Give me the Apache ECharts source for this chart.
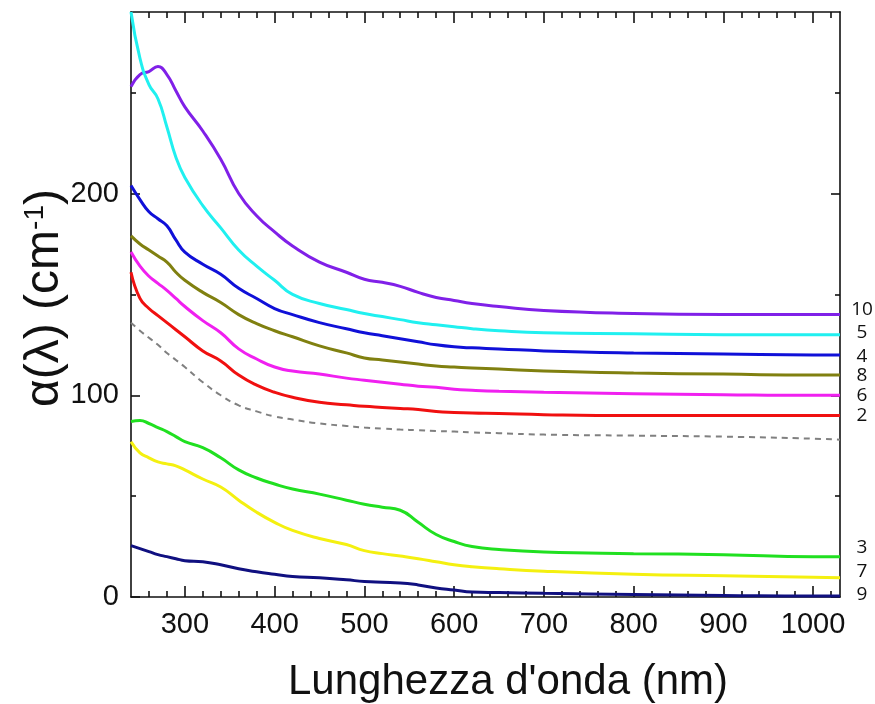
<!DOCTYPE html>
<html>
<head>
<meta charset="utf-8">
<script src="https://cdn.jsdelivr.net/npm/echarts@6/dist/echarts.min.js"></script>
<style>
  html, body { margin: 0; padding: 0; background: #fff; }
  #chart { width: 875px; height: 704px; }
</style>
</head>
<body>
<div id="chart"></div>
<script>
// lunghezza d'onda (nm)
var wl = [240, 250, 260, 270, 280, 290, 300, 320, 340, 360, 380, 400, 420, 450, 480, 500, 520, 540, 560, 580, 600, 620, 650, 700, 800, 900, 1000, 1030];

// alpha(lambda) cm^-1 per campione
var s10 = [253, 259, 260.5, 263, 259, 251, 243, 231, 217, 200, 189, 181, 174, 166, 161, 157.5, 156, 154, 151, 148.5, 147, 145.5, 144, 142, 140.5, 140, 140, 140];
var s5 = [290, 267, 254, 247, 233, 218, 208, 194, 183, 172, 164, 157, 150, 145.5, 142.5, 140.5, 139, 137.5, 136, 135, 134, 133, 132, 131, 130.5, 130, 130, 130];
var s4 = [204, 197, 191, 187.5, 184, 177, 171, 165, 160, 153, 148, 143, 140, 136, 133, 131, 129.5, 128, 126.5, 125, 124, 123.5, 123, 122, 121, 120.5, 120, 120];
var s8 = [179, 175, 172, 169, 166, 161, 157, 151, 146, 140, 135.5, 132, 129, 124.5, 121, 118.5, 117.5, 116.5, 115.5, 114.5, 114, 113.5, 113, 112, 111, 110.5, 110, 110];
var s6 = [171, 164, 159, 155.5, 152, 148, 144, 137, 131, 123, 118, 114, 112, 110.5, 108.5, 107.5, 106.5, 105.5, 104.5, 104, 103, 102.5, 102, 101.5, 100.8, 100.3, 100, 100];
var s2 = [161, 148, 143, 139.5, 136, 132.5, 129, 122, 117, 110, 105, 101.5, 99, 96.5, 95.3, 94.5, 94, 93.5, 93, 92, 91.5, 91.2, 91, 90.4, 90, 90, 90, 90];
var sRef = [136, 132, 128.5, 125, 121, 117.5, 114, 106.5, 100, 95, 92, 89.5, 88, 86, 84.8, 84, 83.5, 83, 82.7, 82.3, 82, 81.6, 81.2, 80.5, 80, 79.5, 78.5, 78];
var s3 = [87, 87.5, 86, 84, 82, 79.5, 77, 74, 69, 63, 59, 56, 53.5, 51, 48, 46, 44.5, 43, 37, 31, 27.5, 25, 23.5, 22.3, 21.5, 21, 20, 20];
var s7 = [77, 71.5, 69, 67, 66, 65, 63, 58.5, 54.5, 48, 42, 37, 33, 29, 26, 23, 21.5, 20.3, 19, 17.5, 16, 15, 14, 12.8, 11.3, 10.5, 9.8, 9.5];
var s9 = [25.5, 24, 22.5, 21, 20, 19, 18, 17.5, 16, 14, 12.5, 11.3, 10.2, 9.5, 8.5, 7.7, 7.3, 7, 6, 4.5, 3.5, 2.5, 2.2, 1.8, 1.2, 0.8, 0.5, 0.5];

// etichette degli assi
var xMajor = [300, 400, 500, 600, 700, 800, 900, 1000];
var yMajor = [0, 100, 200];
var yMinor = [50, 150, 250];
var xMinor = [];
for (var t = 260; t <= 1020; t += 20) {
	if (t % 100 != 0) xMinor.push(t);
}

var seriesList = [
	{ name: '10', data: s10, color: '#8020E8', dy: -5 },
	{ name: '5', data: s5, color: '#20F0F0', dy: -2 },
	{ name: '4', data: s4, color: '#1010D8', dy: 2 },
	{ name: '8', data: s8, color: '#808010', dy: 0 },
	{ name: '6', data: s6, color: '#F020F0', dy: 0 },
	{ name: '2', data: s2, color: '#F01010', dy: 0 },
	{ name: '', data: sRef, color: '#808080', dash: true },
	{ name: '3', data: s3, color: '#20E020', dy: -9 },
	{ name: '7', data: s7, color: '#F4F010', dy: -6 },
	{ name: '9', data: s9, color: '#101080', dy: -1 }
];

function pairs(ys) {
	var out = [];
	for (var i = 0; i < wl.length; i++) out.push([wl[i], ys[i]]);
	return out;
}

var series = seriesList.map(function (s) {
	return {
		name: s.name || 'ref',
		type: 'line',
		data: pairs(s.data),
		showSymbol: false,
		smooth: 0.5,
		z: s.dash ? 1 : 2,
		lineStyle: { color: s.color, width: s.dash ? 2 : 3, type: s.dash ? [6, 5] : 'solid' },
		endLabel: {
			show: !s.dash,
			formatter: s.name,
			distance: 0,
			align: 'center',
			offset: [22, s.dy || 0],
			fontFamily: 'Open Sans',
			fontSize: 19,
			color: '#111'
		}
	};
});

var black = { color: '#111', width: 1.6 };
function plain(v) { return String(v); }
function xAx(pos, ticks, len, label, line) {
	return {
		type: 'value', position: pos, min: 240, max: 1030,
		axisLine: { show: line, onZero: false, lineStyle: black },
		axisTick: { show: true, inside: true, length: len, customValues: ticks, lineStyle: black },
		axisLabel: label ? { show: true, customValues: ticks, formatter: plain, fontFamily: 'Liberation Sans', fontSize: 29, color: '#111', margin: 13 } : { show: false },
		splitLine: { show: false }
	};
}
function yAx(pos, ticks, len, label, line) {
	return {
		type: 'value', position: pos, min: 0, max: 290,
		axisLine: { show: line, onZero: false, lineStyle: black },
		axisTick: { show: true, inside: true, length: len, customValues: ticks, lineStyle: black },
		axisLabel: label ? { show: true, customValues: ticks, formatter: plain, fontFamily: 'Liberation Sans', fontSize: 29, color: '#111', margin: 12 } : { show: false },
		splitLine: { show: false }
	};
}

var chart = echarts.init(document.getElementById('chart'));
chart.setOption({
	animation: false,
	backgroundColor: '#fff',
	grid: { left: 131, top: 12, width: 709, height: 585 },
	xAxis: [
		xAx('bottom', xMajor, 11, true, true),
		xAx('bottom', xMinor, 6, false, false),
		xAx('top', xMajor, 11, false, true),
		xAx('top', xMinor, 6, false, false)
	],
	yAxis: [
		yAx('left', yMajor, 9, true, true),
		yAx('left', yMinor, 5, false, false),
		yAx('right', yMajor, 9, false, true),
		yAx('right', yMinor, 5, false, false)
	],
	series: series,
	graphic: [
		{
			type: 'text', x: 508, y: 682,
			style: { text: "Lunghezza d'onda (nm)", fontFamily: 'Liberation Sans', fontSize: 42, fill: '#111', align: 'center', verticalAlign: 'middle' }
		},
		{
			type: 'text', x: 45, y: 298, rotation: Math.PI / 2,
			style: {
				text: '{a|α(λ) (cm}{s|-1}{a|)}',
				align: 'center', verticalAlign: 'middle',
				rich: {
					a: { fontFamily: 'Liberation Sans', fontSize: 48, fill: '#111' },
					s: { fontFamily: 'Liberation Sans', fontSize: 28, fill: '#111', verticalAlign: 'top' }
				}
			}
		}
	]
});
</script>
</body>
</html>
